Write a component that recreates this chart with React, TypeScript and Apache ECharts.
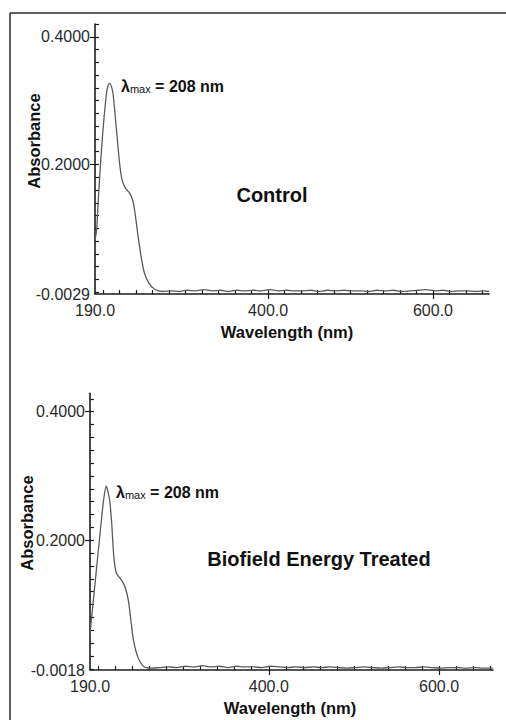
import React, { useEffect, useRef } from "react";
import * as echarts from "echarts";

const FONT = "'Liberation Sans', Arial, Helvetica, sans-serif";

// Control spectrum (wavelength in nm, absorbance)
const controlWavelength = [
  190, 192, 194, 197, 200, 204, 206, 208, 210, 212,
  216, 220, 223, 227, 232, 236, 239, 242, 246, 250,
  255, 262, 272,
  282, 292, 302, 312, 322, 332, 342, 352, 362, 372,
  382, 392, 402, 412, 422, 432, 442, 452, 462, 472,
  482, 492, 502, 512, 522, 532, 542, 552, 562, 572,
  582, 592, 602, 612, 622, 632, 642, 652, 662, 668,
];
const controlAbsorbance = [
  0.082, 0.098, 0.145, 0.207, 0.259, 0.312, 0.324, 0.327, 0.322, 0.31,
  0.255, 0.2, 0.175, 0.163, 0.155, 0.143, 0.12, 0.09, 0.055, 0.03,
  0.015, 0.005, 0.001,
  0.002, 0.001, 0.003, 0.002, 0.004, 0.002, 0.003, 0.001, 0.003, 0.002,
  0.003, 0.002, 0.004, 0.002, 0.003, 0.002, 0.002, 0.003, 0.001, 0.003,
  0.002, 0.003, 0.002, 0.002, 0.001, 0.003, 0.002, 0.003, 0.001, 0.002,
  0.003, 0.004, 0.002, 0.003, 0.001, 0.002, 0.002, 0.001, 0.002, 0.001,
];

// Biofield Energy Treated spectrum
const treatedWavelength = [
  190, 194, 199, 203, 206, 209, 213, 215.5, 218, 221,
  227, 231, 235, 238, 241, 246, 253, 262, 272,
  282, 292, 302, 312, 322, 332, 342, 352, 362, 372,
  382, 392, 402, 412, 422, 432, 442, 452, 462, 472,
  482, 492, 502, 512, 522, 532, 542, 552, 562, 572,
  582, 592, 602, 612, 622, 632, 642, 652, 663,
];
const treatedAbsorbance = [
  0.055, 0.107, 0.174, 0.226, 0.263, 0.284, 0.263, 0.226, 0.174, 0.149,
  0.138, 0.128, 0.107, 0.076, 0.045, 0.019, 0.0035, 0.001, 0.002,
  0.003, 0.002, 0.004, 0.003, 0.005, 0.003, 0.004, 0.002, 0.004, 0.003,
  0.003, 0.002, 0.004, 0.003, 0.002, 0.003, 0.002, 0.003, 0.002, 0.003,
  0.002, 0.001, 0.002, 0.003, 0.002, 0.001, 0.002, 0.003, 0.002, 0.002,
  0.003, 0.002, 0.001, 0.002, 0.002, 0.001, 0.002, 0.001, 0.001,
];

// Tick labels
const xTickLabels = [190, 400, 600];
const controlYTickLabels = [-0.0029, 0.2, 0.4];
const treatedYTickLabels = [-0.0018, 0.2, 0.4];
const majorXTicks = [400, 600];
const majorYTicks = [0.2, 0.4];
const minorXTicks: number[] = [];
for (let w = 200; w <= 660; w += 20) minorXTicks.push(w);
const minorYTicks: number[] = [];
for (let i = 0; i <= 21; i++) minorYTicks.push(+(i * 0.02).toFixed(2));

const zip = (a: number[], b: number[]) => a.map((x, i) => [x, b[i]]);

const AXIS_COLOR = "#1c1c1c";
const LABEL_COLOR = "#2a2a2a";
const TEXT_COLOR = "#111";

export default function App() {
  const ref = useRef<HTMLDivElement>(null);

  useEffect(() => {
    if (!ref.current) return;
    const chart = echarts.init(ref.current, undefined, { renderer: "svg" });

    const panels = [
      {
        grid: { left: 95, top: 24, width: 394, height: 270 },
        xMax: 668,
        yMin: -0.0029,
        yMax: 0.42,
        yLabels: controlYTickLabels,
        data: zip(controlWavelength, controlAbsorbance),
      },
      {
        grid: { left: 90, top: 393.3, width: 403, height: 276.7 },
        xMax: 663.4,
        yMin: -0.0018,
        yMax: 0.4286,
        yLabels: treatedYTickLabels,
        data: zip(treatedWavelength, treatedAbsorbance),
      },
    ];

    const grid: any[] = [];
    const xAxis: any[] = [];
    const yAxis: any[] = [];
    const series: any[] = [];

    panels.forEach((p, i) => {
      grid.push({ ...p.grid, outerBoundsMode: "none", containLabel: false });
      xAxis.push({
        type: "value",
        gridIndex: i,
        position: "bottom",
        min: 190,
        max: p.xMax,
        axisLine: { show: true, onZero: false, lineStyle: { color: AXIS_COLOR, width: 1.6 } },
        axisTick: {
          show: true,
          inside: false,
          length: 5,
          customValues: majorXTicks,
          lineStyle: { color: AXIS_COLOR, width: 1.2 },
        },
        axisLabel: {
          show: true,
          customValues: xTickLabels,
          formatter: (v: number) => Number(v).toFixed(1),
          fontSize: 16,
          fontFamily: FONT,
          color: LABEL_COLOR,
          margin: 8,
          showMinLabel: true,
          showMaxLabel: true,
        },
        splitLine: { show: false },
      });
      xAxis.push({
        type: "value",
        gridIndex: i,
        position: "bottom",
        min: 190,
        max: p.xMax,
        axisLine: { show: false, onZero: false },
        axisTick: {
          show: true,
          inside: true,
          length: 4,
          customValues: minorXTicks,
          lineStyle: { color: AXIS_COLOR, width: 1.2 },
        },
        axisLabel: { show: false },
        splitLine: { show: false },
      });
      yAxis.push({
        type: "value",
        gridIndex: i,
        position: "left",
        min: p.yMin,
        max: p.yMax,
        axisLine: { show: true, onZero: false, lineStyle: { color: AXIS_COLOR, width: 1.6 } },
        axisTick: {
          show: true,
          inside: false,
          length: 5,
          customValues: majorYTicks,
          lineStyle: { color: AXIS_COLOR, width: 1.2 },
        },
        axisLabel: {
          show: true,
          customValues: p.yLabels,
          formatter: (v: number) => Number(v).toFixed(4),
          fontSize: 16,
          fontFamily: FONT,
          color: LABEL_COLOR,
          margin: 5,
          showMinLabel: true,
          showMaxLabel: true,
        },
        splitLine: { show: false },
      });
      yAxis.push({
        type: "value",
        gridIndex: i,
        position: "left",
        min: p.yMin,
        max: p.yMax,
        axisLine: { show: false, onZero: false },
        axisTick: {
          show: true,
          inside: true,
          length: 4,
          customValues: minorYTicks.filter((v) => v <= p.yMax),
          lineStyle: { color: AXIS_COLOR, width: 1.2 },
        },
        axisLabel: { show: false },
        splitLine: { show: false },
      });
      series.push({
        type: "line",
        xAxisIndex: i * 2,
        yAxisIndex: i * 2,
        data: p.data,
        symbol: "none",
        showSymbol: false,
        smooth: 0.25,
        lineStyle: { color: "#5a5a5a", width: 1.3 },
      });
    });

    const boldText = (text: string, x: number, y: number, size: number, rotation = 0) => ({
      type: "text",
      x,
      y,
      rotation,
      silent: true,
      style: {
        text,
        x: 0,
        y: 0,
        font: `bold ${size}px ${FONT}`,
        fill: TEXT_COLOR,
        align: "center",
        verticalAlign: "middle",
        textAlign: "center",
        textVerticalAlign: "middle",
      },
    });

    const lambdaText = (x: number, y: number) => ({
      type: "text",
      x,
      y,
      silent: true,
      style: {
        text: "{l|λ}{s|max}{b| = 208 nm}",
        x: 0,
        y: 0,
        fill: TEXT_COLOR,
        align: "left",
        verticalAlign: "middle",
        textAlign: "left",
        textVerticalAlign: "middle",
        rich: {
          l: { fontSize: 16, fontWeight: "bold", fontFamily: FONT, fill: TEXT_COLOR, lineHeight: 18, verticalAlign: "bottom" },
          s: { fontSize: 11, fontWeight: "normal", fontFamily: FONT, fill: TEXT_COLOR, lineHeight: 18, verticalAlign: "bottom" },
          b: { fontSize: 16, fontWeight: "bold", fontFamily: FONT, fill: TEXT_COLOR, lineHeight: 18, verticalAlign: "bottom" },
        },
      },
    });

    const graphic = [
      { type: "line", silent: true, shape: { x1: 10, y1: 13, x2: 506, y2: 13 }, style: { stroke: "#2b2b2b", lineWidth: 1.5 } },
      { type: "line", silent: true, shape: { x1: 10, y1: 13, x2: 10, y2: 720 }, style: { stroke: "#2b2b2b", lineWidth: 1.5 } },
      boldText("Absorbance", 34, 141, 16.5, Math.PI / 2),
      boldText("Absorbance", 27, 523, 16.5, Math.PI / 2),
      boldText("Wavelength (nm)", 287, 332, 16.5),
      boldText("Wavelength (nm)", 290, 708, 16.5),
      boldText("Control", 272, 195, 20),
      boldText("Biofield Energy Treated", 319, 559, 20),
      lambdaText(121, 85),
      lambdaText(116, 491),
    ];

    chart.setOption({
      animation: false,
      backgroundColor: "#ffffff",
      grid,
      xAxis,
      yAxis,
      series,
      graphic,
    });

    return () => chart.dispose();
  }, []);

  return (
    <div
      ref={ref}
      style={{ position: "fixed", left: 0, top: 0, width: 506, height: 720, background: "#fff" }}
    />
  );
}
